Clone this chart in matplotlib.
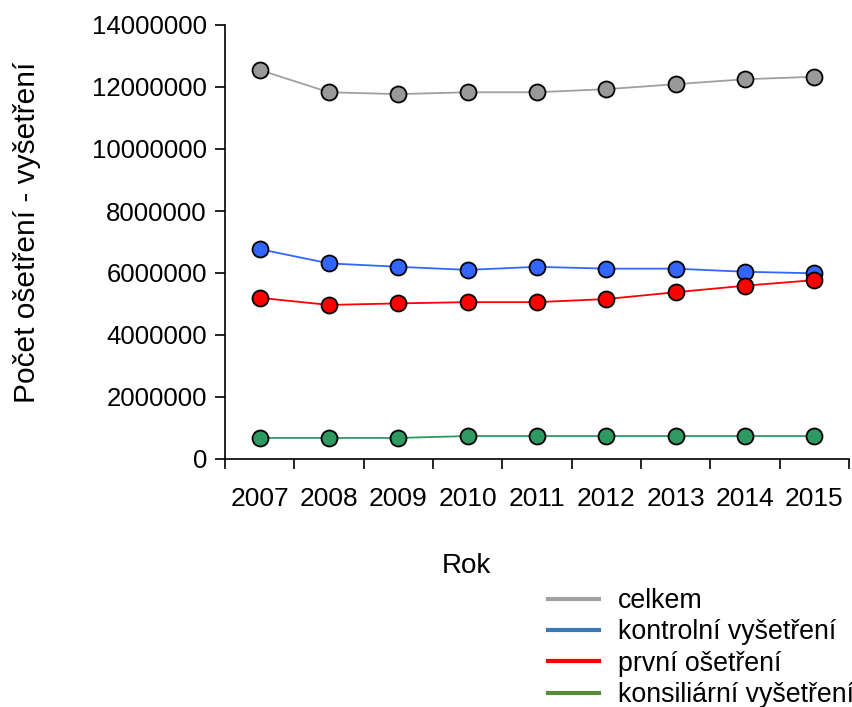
import matplotlib
matplotlib.use('Agg')
import matplotlib.pyplot as plt
from matplotlib.lines import Line2D
import numpy as np

plt.rcParams['font.family'] = ['Liberation Sans', 'DejaVu Sans']

# data
years = ['2007', '2008', '2009', '2010', '2011', '2012', '2013', '2014', '2015']
celkem = [12550000, 11830000, 11770000, 11830000, 11830000, 11930000, 12090000, 12250000, 12330000]
kontrolni = [6770000, 6310000, 6200000, 6100000, 6200000, 6140000, 6140000, 6040000, 5990000]
prvni = [5200000, 4970000, 5020000, 5060000, 5060000, 5160000, 5380000, 5590000, 5770000]
konsiliarni = [680000, 680000, 680000, 740000, 740000, 740000, 740000, 740000, 740000]

series_labels = ['celkem', 'kontrolní vyšetření', 'první ošetření', 'konsiliární vyšetření']
line_colors = ['#a0a0a0', '#3366ff', '#ff0000', '#2e9a5e']
marker_colors = ['#999999', '#3366ff', '#ff0000', '#2e9a62']
legend_colors = ['#a0a0a0', '#3a78b8', '#ff0000', '#558b3a']

fig = plt.figure(figsize=(8.52, 7.07), dpi=100)
ax = fig.add_axes([225 / 852, 1 - 459 / 707, 624 / 852, 434 / 707])

x = np.arange(len(years))
for vals, lc, mc in zip([celkem, kontrolni, prvni, konsiliarni], line_colors, marker_colors):
    ax.plot(x, vals, color=lc, lw=1.3, marker='o', markersize=11.5,
            markerfacecolor=mc, markeredgecolor='black', markeredgewidth=1.3,
            clip_on=False, zorder=3)

ax.set_xlim(-0.5, len(years) - 0.5)
ax.set_ylim(0, 14000000)
ax.set_yticks(np.arange(0, 14000001, 2000000))
ax.set_yticklabels([str(v) for v in range(0, 14000001, 2000000)], fontsize=18.5)
ax.set_xticks(x)
ax.set_xticklabels(years, fontsize=19)
ax.set_xticks(np.arange(-0.5, len(years)), minor=True)
ax.tick_params(axis='x', which='major', length=0, pad=20)
ax.tick_params(axis='x', which='minor', length=7, width=1.2, direction='out')
ax.tick_params(axis='y', length=7, width=1.2, direction='out', pad=6)

for s in ['top', 'right']:
    ax.spines[s].set_visible(False)
for s in ['left', 'bottom']:
    ax.spines[s].set_linewidth(1.2)

fig.text(27 / 852, 1 - 232 / 707, 'Počet ošetření - vyšetření', rotation=90,
         ha='center', va='center', fontsize=21.5)
fig.text(466 / 852, 1 - 566 / 707, 'Rok', ha='center', va='center', fontsize=20)

handles = [Line2D([0], [0], color=c, lw=3) for c in legend_colors]
fig.legend(handles, series_labels, loc='upper left',
           bbox_to_anchor=(548 / 852, 1 - 588 / 707), frameon=False,
           fontsize=19.3, handlelength=1.9, handletextpad=0.7,
           labelspacing=0.2, borderpad=0, borderaxespad=0)

fig.savefig('out.png', dpi=100)
